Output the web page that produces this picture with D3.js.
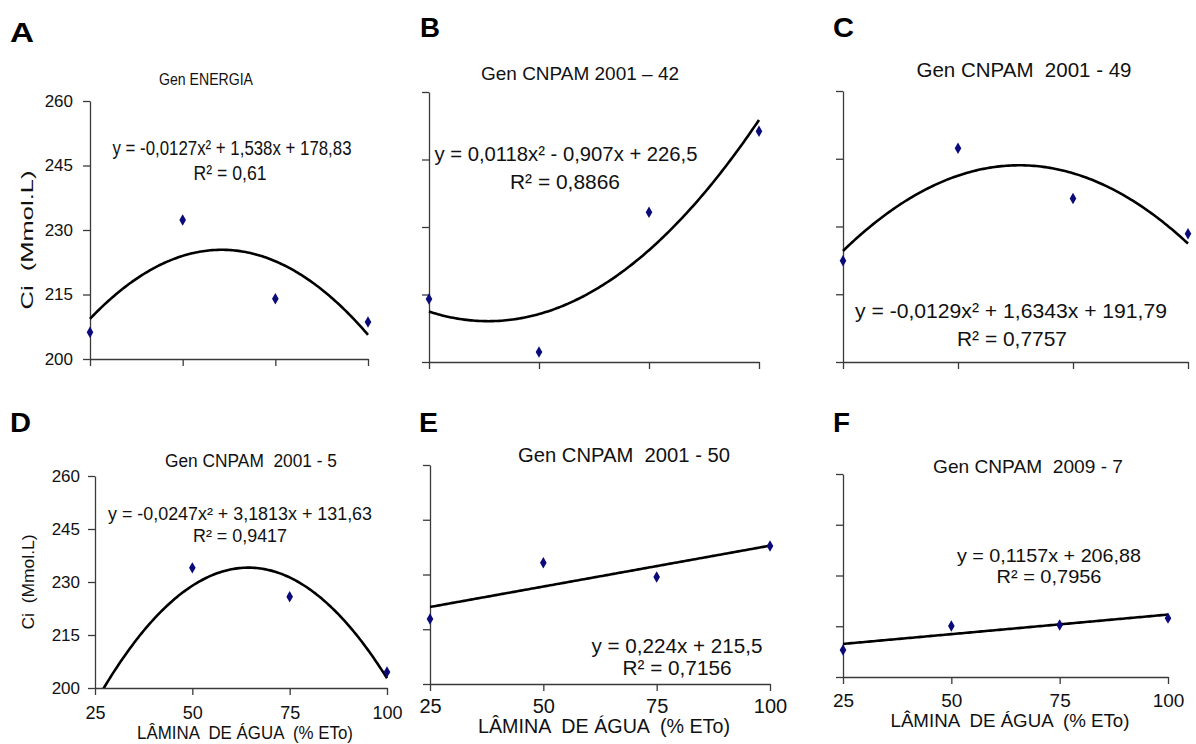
<!DOCTYPE html>
<html><head><meta charset="utf-8">
<script src="https://cdn.jsdelivr.net/npm/d3@7"></script>
<style>
body{margin:0;background:#fff}
svg{display:block;font-family:"Liberation Sans",Arial,sans-serif}
</style>
</head><body>
<svg id="c" width="1196" height="744"></svg>
<script>
// ---------- data ----------
const lamina = [25, 50, 75, 100];
const yTickValues = [200, 215, 230, 245, 260];
const xTickLabels = ["25", "50", "75", "100"];
const panelLetters = ["A", "B", "C", "D", "E", "F"];
const titles = ["Gen ENERGIA", "Gen CNPAM 2001 \u2013 42", "Gen CNPAM  2001 - 49",
                "Gen CNPAM  2001 - 5", "Gen CNPAM  2001 - 50", "Gen CNPAM  2009 - 7"];
const ciA = [206.2, 232.3, 214.0, 208.6];
const ciB = [214.0, 202.2, 233.3, 251.3];
const ciC = [222.4, 247.3, 236.2, 228.4];
const ciD = [null, 234.0, 225.8, 204.5];
const ciE = [217.8, 233.2, 229.3, 237.8];
const ciF = [208.0, 215.1, 215.4, 217.4];
// trend-line coefficients [a, b, c] for y = a x^2 + b x + c
const coefA = [-0.0127, 1.538, 178.83];
const coefB = [0.0118, -0.907, 226.5];
const coefC = [-0.0129, 1.6343, 191.79];
const coefD = [-0.0247, 3.1813, 131.63];
const coefE = [0, 0.224, 215.5];
const coefF = [0, 0.1157, 206.88];
const equations = ["y = -0,0127x\u00b2 + 1,538x + 178,83", "y = 0,0118x\u00b2 - 0,907x + 226,5",
                   "y = -0,0129x\u00b2 + 1,6343x + 191,79", "y = -0,0247x\u00b2 + 3,1813x + 131,63",
                   "y = 0,224x + 215,5", "y = 0,1157x + 206,88"];
const r2Labels = ["R\u00b2 = 0,61", "R\u00b2 = 0,8866", "R\u00b2 = 0,7757", "R\u00b2 = 0,9417",
                  "R\u00b2 = 0,7156", "R\u00b2 = 0,7956"];
const yAxisTitle = "Ci  (Mmol.L)";
const xAxisTitle = "L\u00c2MINA  DE \u00c1GUA  (% ETo)";

const series = [ciA, ciB, ciC, ciD, ciE, ciF];
const coefs = [coefA, coefB, coefC, coefD, coefE, coefF];

// ---------- layout (pixels) ----------
// t = [cx, baseline, fontSize, textLength]
const layout = [
  {x0:90,  x1:368,  yT:101, yB:359, letter:[10,42,24],  title:[206,85,16,94],   eq:[232,155,20,239], r2:[230,180,20,73],
   ylab:[27,240,17,139], yTick:{size:17,pad:10}},
  {x0:429, x1:759,  yT:92,  yB:362, letter:[420,37,20], title:[580,80,19,198],  eq:[566,161,20,263], r2:[565,189,20,110]},
  {x0:843, x1:1188, yT:91,  yB:362, letter:[833,37,21], title:[1024,77,20,215], eq:[1011,318,21,312], r2:[1012,346,21,110]},
  {x0:95,  x1:387,  yT:476, yB:688, letter:[10,432,21], title:[251,467,18,172], eq:[240,520,18,264], r2:[240,542,18,94],
   ylab:[28,582,17,95], yTick:{size:17,pad:8}, xTick:{size:18,pad:11}, xlab:[245,739,18,216]},
  {x0:430, x1:770,  yT:465, yB:684, letter:[419,432,19], title:[624,462,20,212], eq:[677,653,20,171], r2:[677,675,20,109],
   xTick:{size:20,pad:8}, xlab:[604,733,20,252]},
  {x0:843, x1:1168, yT:474, yB:677, letter:[833,432,17], title:[1028,473,19,190], eq:[1049,562,19,184], r2:[1049,583,19,105],
   xTick:{size:19,pad:10}, xlab:[1010,727,19,239]}
];

const svg = d3.select("#c");
const axisColor = "#3a3a3a";

function addText(g, t, str) {
  g.append("text")
    .attr("x", t[0]).attr("y", t[1])
    .attr("text-anchor", "middle")
    .attr("font-size", t[2])
    .attr("textLength", t[3]).attr("lengthAdjust", "spacingAndGlyphs")
    .style("white-space", "pre")
    .attr("fill", "#111")
    .text(str);
}

layout.forEach((L, i) => {
  const g = svg.append("g");
  const x = d3.scaleLinear().domain([25, 100]).range([L.x0, L.x1]);
  const y = d3.scaleLinear().domain([200, 260]).range([L.yB, L.yT]);

  // y axis
  const yAx = d3.axisLeft(y).tickValues(yTickValues).tickSize(7).tickSizeOuter(0)
    .tickPadding(L.yTick ? L.yTick.pad : 3)
    .tickFormat(L.yTick ? d3.format("d") : () => "");
  const gy = g.append("g").attr("transform", `translate(${L.x0},0)`).call(yAx);
  // x axis
  const xAx = d3.axisBottom(x).tickValues(lamina).tickSize(7).tickSizeOuter(0)
    .tickPadding(L.xTick ? L.xTick.pad : 3)
    .tickFormat((d, k) => L.xTick ? xTickLabels[k] : "");
  const gx = g.append("g").attr("transform", `translate(0,${L.yB})`).call(xAx);
  [gy, gx].forEach(a => {
    a.selectAll("path,line").attr("stroke", axisColor).attr("stroke-width", 1.3);
    a.selectAll("text").attr("fill", "#111").attr("font-family", "Liberation Sans, Arial, sans-serif");
  });
  if (L.yTick) gy.selectAll("text").attr("font-size", L.yTick.size);
  if (L.xTick) gx.selectAll("text").attr("font-size", L.xTick.size);

  // clip
  const cid = "clip" + i;
  g.append("clipPath").attr("id", cid).append("rect")
    .attr("x", L.x0 - 3).attr("y", L.yT).attr("width", L.x1 - L.x0 + 6).attr("height", L.yB - L.yT);

  // trend line from the chart's equation
  const c = coefs[i];
  const xs = d3.range(25, 100.001, 0.5);
  const line = d3.line().x(v => x(v)).y(v => y(c[0] * v * v + c[1] * v + c[2]));
  g.append("path").attr("clip-path", `url(#${cid})`)
    .attr("d", line(xs)).attr("fill", "none").attr("stroke", "#000").attr("stroke-width", 2.6);

  // points
  const pts = lamina.map((l, k) => ({l, v: series[i][k]})).filter(d => d.v != null);
  g.selectAll(".pt").data(pts).join("path")
    .attr("transform", d => `translate(${x(d.l)},${y(d.v)})`)
    .attr("d", d3.symbol(d3.symbolDiamond, 38)())
    .attr("fill", "#0a0a7a");

  // texts
  g.append("text").attr("x", L.letter[0]).attr("y", L.letter[1])
    .attr("font-size", 27).attr("font-weight", "bold").attr("fill", "#000")
    .attr("textLength", L.letter[2]).attr("lengthAdjust", "spacingAndGlyphs")
    .text(panelLetters[i]);
  addText(g, L.title, titles[i]);
  addText(g, L.eq, equations[i]);
  addText(g, L.r2, r2Labels[i]);
  if (L.ylab) {
    g.append("text")
      .attr("transform", `translate(${L.ylab[0]},${L.ylab[1]}) rotate(-90)`)
      .attr("text-anchor", "middle").attr("dominant-baseline", "central")
      .attr("font-size", L.ylab[2])
      .attr("textLength", L.ylab[3]).attr("lengthAdjust", "spacingAndGlyphs")
      .style("white-space", "pre").attr("fill", "#111")
      .text(yAxisTitle);
  }
  if (L.xlab) addText(g, L.xlab, xAxisTitle);
});
</script>
</body></html>
